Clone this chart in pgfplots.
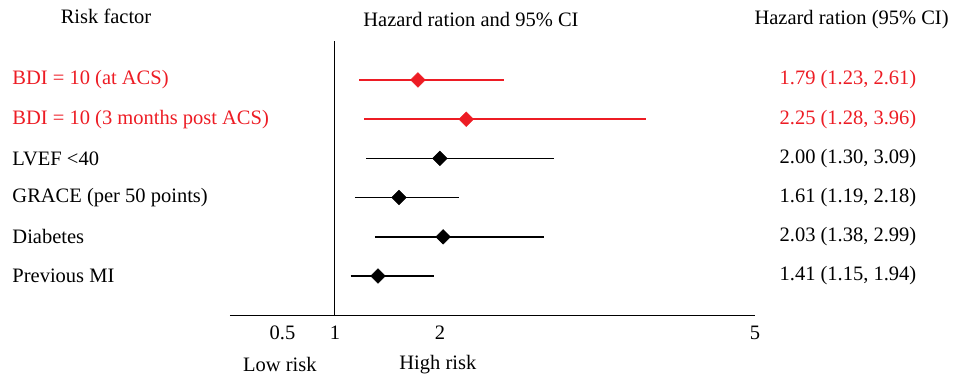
\documentclass[border=0pt]{standalone}
\usepackage{pgfplots}
\pgfplotsset{compat=1.18}
\usepackage{pgfplotstable}
\usepackage{fontspec}
\setmainfont{Liberation Serif}
\definecolor{fred}{RGB}{237,28,36}
\pgfplotstableread{
y hr lo hi
6 1.79 1.23 2.61
5 2.25 1.28 3.96
}\redtab
\pgfplotstableread{
y hr lo hi
4 2.00 1.30 3.09
3 1.61 1.19 2.18
2 2.03 1.38 2.99
1 1.41 1.15 1.94
}\blacktab
\begin{document}
\begin{tikzpicture}[every node/.style={font=\fontsize{20.5}{24}\selectfont}]
\begin{axis}[
  scale only axis, width=525pt, height=274.4pt,
  xmin=0, xmax=5, ymin=0, ymax=7,
  axis x line=bottom, axis y line=none,
  x axis line style={-, line width=1pt},
  xtick={0.5,1,2,5}, xticklabels={0.5,1,2,5},
  major tick length=0pt, ytick=\empty,
  /pgf/number format/assume math mode=true,
  xticklabel style={font=\fontsize{20.5}{24}\selectfont, yshift=-7pt},
  clip=false,
]
\addplot[black, line width=1pt] coordinates {(1,0) (1,7)};
% confidence intervals
\addplot[fred, line width=1.5pt] coordinates {(1.23,6) (2.61,6)};
\addplot[fred, line width=1.5pt] coordinates {(1.28,5) (3.96,5)};
\addplot[black, line width=1.5pt] coordinates {(1.30,4) (3.09,4)};
\addplot[black, line width=1.5pt] coordinates {(1.19,3) (2.18,3)};
\addplot[black, line width=1.5pt] coordinates {(1.38,2) (2.99,2)};
\addplot[black, line width=1.5pt] coordinates {(1.15,1) (1.94,1)};
% point estimates
\addplot[fred, only marks, mark=square*, mark size=5.2pt,
  mark options={rotate=45, fill=fred, draw=fred}]
  table[x=hr, y=y] {\redtab};
\addplot[black, only marks, mark=square*, mark size=5.2pt,
  mark options={rotate=45, fill=black, draw=black}]
  table[x=hr, y=y] {\blacktab};
% headers
\node at (axis cs:-1.18,7.61) {Risk factor};
\node at (axis cs:2.295,7.53) {Hazard ration and 95\% CI};
\node at (axis cs:5.92,7.53) {Hazard ration (95\% CI)};
% row labels
\node[anchor=west, text=fred] at (axis cs:-2.105,6) {BDI = 10 (at ACS)};
\node[anchor=west, text=fred] at (axis cs:-2.105,5) {BDI = 10 (3 months post ACS)};
\node[anchor=west] at (axis cs:-2.105,4) {LVEF <40};
\node[anchor=west] at (axis cs:-2.105,3) {GRACE (per 50 points)};
\node[anchor=west] at (axis cs:-2.105,2) {Diabetes};
\node[anchor=west] at (axis cs:-2.105,1) {Previous MI};
% values
\node[anchor=east, text=fred] at (axis cs:6.57,6) {1.79 (1.23, 2.61)};
\node[anchor=east, text=fred] at (axis cs:6.57,5) {2.25 (1.28, 3.96)};
\node[anchor=east] at (axis cs:6.57,4) {2.00 (1.30, 3.09)};
\node[anchor=east] at (axis cs:6.57,3) {1.61 (1.19, 2.18)};
\node[anchor=east] at (axis cs:6.57,2) {2.03 (1.38, 2.99)};
\node[anchor=east] at (axis cs:6.57,1) {1.41 (1.15, 1.94)};
% risk labels
\node at (axis cs:0.476,-1.25) {Low risk};
\node at (axis cs:1.98,-1.25) {High risk};
\path (axis cs:-2.19,-1.556) rectangle (axis cs:6.924,8.04);
\end{axis}
\end{tikzpicture}
\end{document}
